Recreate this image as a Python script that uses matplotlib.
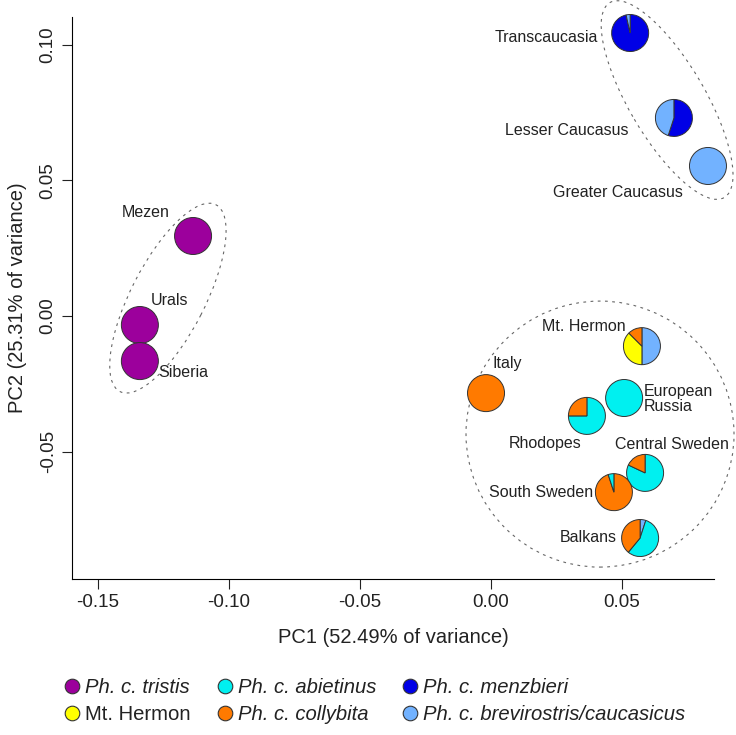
import matplotlib
matplotlib.use('Agg')
import matplotlib.pyplot as plt
import matplotlib.transforms as mtransforms
from matplotlib.patches import Wedge, Ellipse
from matplotlib.lines import Line2D

plt.rcParams['font.family'] = ['Liberation Sans', 'DejaVu Sans']

# legend groups
GROUPS = ['tristis', 'abietinus', 'menzbieri', 'hermon', 'collybita', 'brevirostris']
GROUP_LABELS = ['Ph. c. tristis', 'Ph. c. abietinus', 'Ph. c. menzbieri',
                'Mt. Hermon', 'Ph. c. collybita', 'Ph. c. brevirostris/caucasicus']
GROUP_COLOURS = ['#9c009c', '#00f0f0', '#0000e6', '#ffff00', '#ff7a00', '#72b2ff']

# populations and PCA scores
POPULATIONS = ['Transcaucasia', 'Lesser Caucasus', 'Greater Caucasus', 'Mezen', 'Urals',
               'Siberia', 'Mt. Hermon', 'Italy', 'European\nRussia', 'Rhodopes',
               'Central Sweden', 'South Sweden', 'Balkans']
PC1 = [0.0531, 0.0698, 0.0828, -0.1137, -0.1340, -0.1340, 0.0576, -0.0019, 0.0508,
       0.0366, 0.0588, 0.0469, 0.0569]
PC2 = [0.1043, 0.0730, 0.0553, 0.0295, -0.0033, -0.0166, -0.0111, -0.0284, -0.0302,
       -0.0368, -0.0578, -0.0649, -0.0818]

# pie composition, slices clockwise from 12 o'clock
COMPOSITION = [
    [('menzbieri', 0.965), ('brevirostris', 0.035)],
    [('menzbieri', 0.55), ('brevirostris', 0.45)],
    [('brevirostris', 1.0)],
    [('tristis', 1.0)],
    [('tristis', 1.0)],
    [('tristis', 1.0)],
    [('brevirostris', 0.5), ('hermon', 0.375), ('collybita', 0.125)],
    [('collybita', 1.0)],
    [('abietinus', 1.0)],
    [('abietinus', 0.75), ('collybita', 0.25)],
    [('abietinus', 0.82), ('collybita', 0.18)],
    [('collybita', 0.95), ('abietinus', 0.05)],
    [('brevirostris', 0.05), ('abietinus', 0.56), ('collybita', 0.39)],
]

# label placement: offset in pixels from pie centre, horizontal alignment
LABEL_OFFSETS = [(-32, -4, 'right'), (-45, -13, 'right'), (-25, -27, 'right'),
                 (-47, 23, 'center'), (30, 25, 'center'), (43, -11, 'center'),
                 (-16, 20, 'right'), (6, 30, 'left'), (20, -1, 'left'),
                 (-42, -28, 'center'), (27, 28, 'center'), (-21, 0, 'right'),
                 (-23, 1, 'right')]

# dotted group outlines: centre (data), width, height (pixels), angle
OUTLINES = [((0.0672, 0.0796), 226, 76, -59.6),
            ((-0.1233, 0.0066), 210, 74, 62.8),
            ((0.0416, -0.0435), 268, 266, 0)]

PIE_RADIUS = 18.5


def draw_pie(ax, x, y, slices):
    colours = dict(zip(GROUPS, GROUP_COLOURS))
    trans = mtransforms.ScaledTranslation(x, y, ax.transData)
    start = 0.0
    for group, frac in slices:
        end = start + frac
        w = Wedge((0, 0), PIE_RADIUS, 90 - end * 360, 90 - start * 360,
                  facecolor=colours[group], edgecolor='#333333', linewidth=0.7,
                  transform=trans, clip_on=False)
        ax.add_artist(w)
        start = end


def main():
    fig = plt.figure(figsize=(7.36, 7.35), dpi=100)
    ax = fig.add_axes([72 / 736, 1 - 579 / 735, 642 / 736, 562 / 735])
    ax.set_xlim(-0.1599, 0.0851)
    ax.set_ylim(-0.0969, 0.1102)

    for (cx, cy), w, h, ang in OUTLINES:
        e = Ellipse((0, 0), w, h, angle=ang, fill=False, edgecolor='#666666',
                    linewidth=0.8, linestyle=(0, (2.5, 4)),
                    transform=mtransforms.ScaledTranslation(cx, cy, ax.transData),
                    clip_on=False)
        ax.add_artist(e)

    for i, name in enumerate(POPULATIONS):
        draw_pie(ax, PC1[i], PC2[i], COMPOSITION[i])
        dx, dy, ha = LABEL_OFFSETS[i]
        ax.annotate(name, (PC1[i], PC2[i]), xytext=(dx, dy), textcoords='offset pixels',
                    ha=ha, va='center', fontsize=11.5, color='#222222',
                    linespacing=1.0)

    ax.spines['top'].set_visible(False)
    ax.spines['right'].set_visible(False)
    ax.set_xticks([-0.15, -0.10, -0.05, 0.00, 0.05])
    ax.set_xticklabels(['-0.15', '-0.10', '-0.05', '0.00', '0.05'])
    ax.set_yticks([-0.05, 0.00, 0.05, 0.10])
    ax.set_yticklabels(['-0.05', '0.00', '0.05', '0.10'], rotation=90, va='center')
    ax.tick_params(length=7, width=0.8, labelsize=13.5, pad=4, colors='#222222')
    ax.set_xlabel('PC1 (52.49% of variance)', fontsize=14.5, labelpad=12, color='#222222')
    ax.set_ylabel('PC2 (25.31% of variance)', fontsize=14.5, labelpad=9, color='#222222')

    handles = []
    labels = []
    for k in [0, 3, 1, 4, 2, 5]:
        handles.append(Line2D([], [], marker='o', linestyle='none', markersize=10.5,
                              markerfacecolor=GROUP_COLOURS[k],
                              markeredgecolor='#333333', markeredgewidth=0.8))
        labels.append(GROUP_LABELS[k])
    leg = fig.legend(handles, labels, ncol=3, loc='upper left',
                     bbox_to_anchor=(54 / 736, 1 - 668 / 735), frameon=False,
                     fontsize=14.6, handlelength=0.8, handletextpad=0.25,
                     columnspacing=1.25, labelspacing=0.4, borderpad=0)
    for t in leg.get_texts():
        if t.get_text() != 'Mt. Hermon':
            t.set_fontstyle('italic')
        t.set_color('#222222')

    fig.savefig('out.png', dpi=100)


if __name__ == '__main__':
    main()
